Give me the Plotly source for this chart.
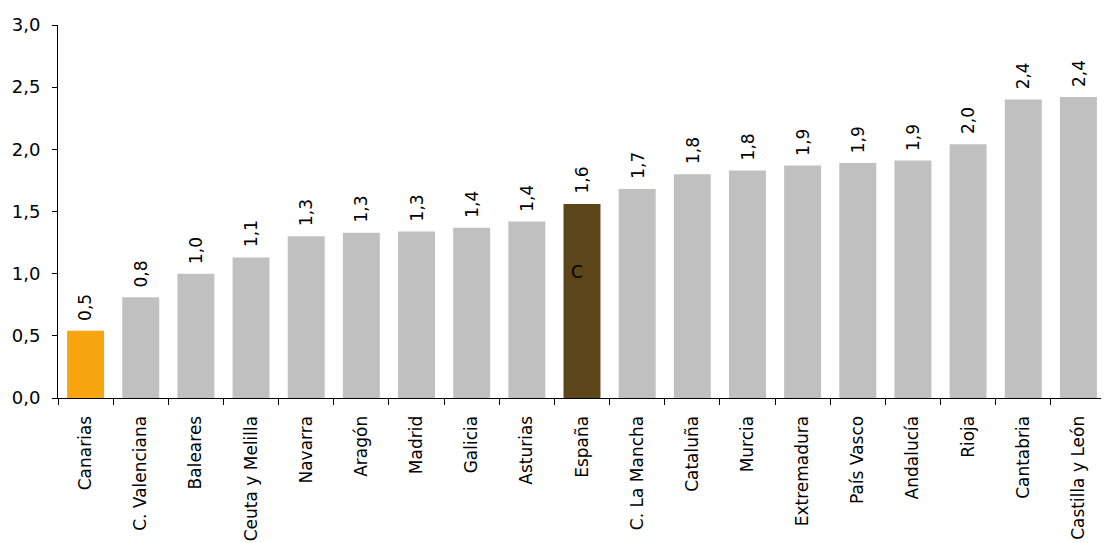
import plotly.graph_objects as go

categories = ["Canarias", "C. Valenciana", "Baleares", "Ceuta y Melilla", "Navarra",
              "Aragón", "Madrid", "Galicia", "Asturias", "España", "C. La Mancha",
              "Cataluña", "Murcia", "Extremadura", "País Vasco", "Andalucía", "Rioja",
              "Cantabria", "Castilla y León"]
values = [0.54, 0.81, 1.00, 1.13, 1.30, 1.33, 1.34, 1.37, 1.42, 1.56, 1.68,
          1.80, 1.83, 1.87, 1.89, 1.91, 2.04, 2.40, 2.42]
y_ticks = [0, 0.5, 1.0, 1.5, 2.0, 2.5, 3.0]

GRAY = "#C0C0C0"
ORANGE = "#F6A50E"
BROWN = "#5C4518"
colors = [ORANGE if c == "Canarias" else BROWN if c == "España" else GRAY for c in categories]

FONT = "DejaVu Sans"

fig = go.Figure(go.Bar(
    x=categories, y=values, marker=dict(color=colors, line=dict(width=0)),
    hoverinfo="x+y",
))

for c, v in zip(categories, values):
    fig.add_annotation(x=c, y=v, text=f"{v:.1f}".replace(".", ","), showarrow=False,
                       textangle=-90, yanchor="bottom", yshift=8,
                       font=dict(family=FONT, size=17, color="#000000"))

fig.add_annotation(x="España", y=1.01, text="C", showarrow=False,
                   xshift=-5, font=dict(family=FONT, size=17, color="#000000"))

# page body has an 8px default margin, so the figure is sized/offset accordingly
fig.update_layout(
    width=1101, height=535, separators=",.",
    margin=dict(l=50, r=3, t=17, b=145),
    plot_bgcolor="white", paper_bgcolor="white",
    bargap=0.33, showlegend=False,
    font=dict(family=FONT, size=17, color="#000000"),
)
fig.update_xaxes(showline=True, linecolor="#000000", linewidth=1, automargin=False,
                 ticks="outside", tickson="boundaries", ticklen=6, tickcolor="#000000",
                 tickangle=-90, tickfont=dict(family=FONT, size=17), ticklabelstandoff=10)
fig.update_yaxes(range=[0, 3.0], tickvals=y_ticks, tickformat=".1f", automargin=False,
                 showline=True, linecolor="#000000", linewidth=1,
                 ticks="outside", ticklen=5, tickcolor="#000000", ticklabelstandoff=8,
                 showgrid=False, zeroline=False, tickfont=dict(family=FONT, size=18))

fig.write_html("out.html")
